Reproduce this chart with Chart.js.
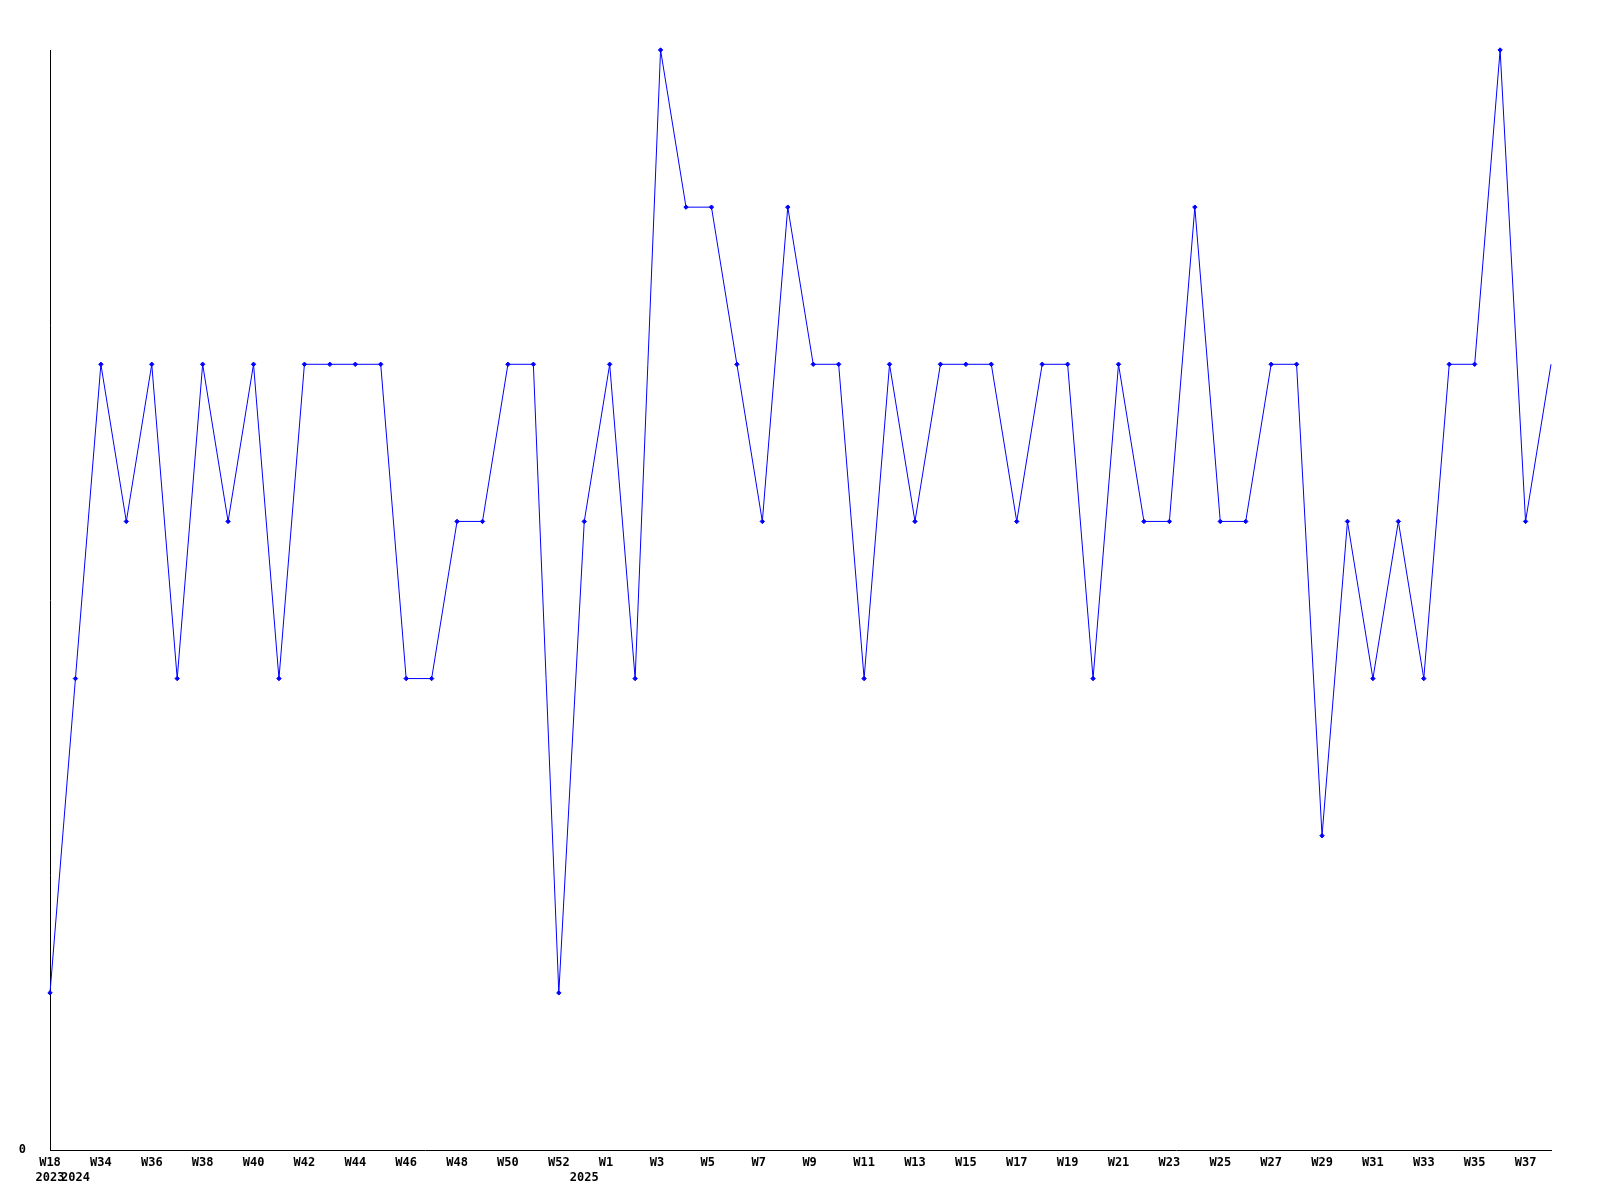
<!DOCTYPE html>
<html>
<head>
<meta charset="utf-8">
<script src="https://cdn.jsdelivr.net/npm/chart.js@4/dist/chart.umd.min.js"></script>
<style>
  html, body { margin: 0; padding: 0; background: #fff; }
  #wrap { width: 1600px; height: 1200px; }
</style>
</head>
<body>
<div id="wrap"><canvas id="weekChart" width="1600" height="1200"></canvas></div>
<script>
const weeks = ['W18', 'W33', 'W34', 'W35', 'W36', 'W37', 'W38', 'W39', 'W40', 'W41',
    'W42', 'W43', 'W44', 'W45', 'W46', 'W47', 'W48', 'W49', 'W50', 'W51',
    'W52', 'W0', 'W1', 'W2', 'W3', 'W4', 'W5', 'W6', 'W7', 'W8',
    'W9', 'W10', 'W11', 'W12', 'W13', 'W14', 'W15', 'W16', 'W17', 'W18',
    'W19', 'W20', 'W21', 'W22', 'W23', 'W24', 'W25', 'W26', 'W27', 'W28',
    'W29', 'W30', 'W31', 'W32', 'W33', 'W34', 'W35', 'W36', 'W37', 'W38'];
// year shown under the first week of each year
const years = { 0: '2023', 1: '2024', 21: '2025' };
const counts = [1, 3, 5, 4, 5, 3, 5, 4, 5, 3,
    5, 5, 5, 5, 3, 3, 4, 4, 5, 5,
    1, 4, 5, 3, 7, 6, 6, 5, 4, 6,
    5, 5, 3, 5, 4, 5, 5, 5, 4, 5,
    5, 3, 5, 4, 4, 6, 4, 4, 5, 5,
    2, 4, 3, 4, 3, 5, 5, 7, 4, 5];
const yTicks = [0];

const tickFont = { family: 'DejaVu Sans Mono', weight: 'bold', size: 12, lineHeight: 1.25 };

new Chart(document.getElementById('weekChart'), {
    type: 'line',
    data: {
        labels: weeks,
        datasets: [{
            data: counts,
            borderColor: '#0000ff',
            backgroundColor: '#0000ff',
            borderWidth: 1,
            tension: 0,
            fill: false,
            clip: false,
            pointStyle: 'rectRot',
            pointRadius: ctx => ctx.dataIndex === counts.length - 1 ? 0 : 2.2,
            pointBorderWidth: 1
        }]
    },
    options: {
        responsive: false,
        animation: false,
        layout: { padding: { top: 50, right: 49, left: 0, bottom: 0 } },
        plugins: {
            legend: { display: false },
            tooltip: { enabled: false }
        },
        scales: {
            x: {
                grid: { display: false, drawTicks: false },
                border: { display: true, color: '#000', width: 1 },
                afterFit: s => { s.height = 50; },
                ticks: {
                    autoSkip: false,
                    maxRotation: 0,
                    padding: 5,
                    color: '#000',
                    font: tickFont,
                    callback: (v, i) => {
                        // short labels sit left in a 3-char slot, like the original
                        const w = i % 2 === 0 ? weeks[i].padEnd(3, ' ') : '';
                        return years[i] ? [w, years[i]] : w;
                    }
                }
            },
            y: {
                min: 0,
                max: 7,
                grid: { display: false, drawTicks: false },
                border: { display: true, color: '#000', width: 1 },
                afterFit: s => { s.width = 50; },
                afterBuildTicks: s => { s.ticks = yTicks.map(v => ({ value: v })); },
                ticks: {
                    padding: 24,
                    color: '#000',
                    font: tickFont,
                    callback: v => String(v)
                }
            }
        }
    }
});
</script>
</body>
</html>
